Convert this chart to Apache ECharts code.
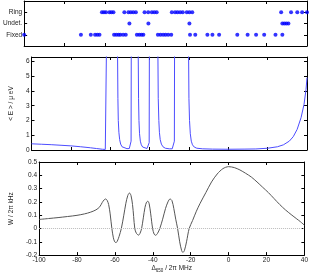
<!DOCTYPE html>
<html><head><meta charset="utf-8">
<script src="https://cdn.jsdelivr.net/npm/echarts@6/dist/echarts.min.js"></script>
<style>html,body{margin:0;padding:0;background:#fff}#c{width:311px;height:274px}</style>
</head><body><div id="c"></div>
<script>
// ---- data ----
const rowLabels = ['', 'Fixed', 'Undet.', 'Ring'];
const ringX = [-61.5,-60.5,-59.5,-57.8,-56.8,-55.8,-50.4,-48.4,-47.2,-46,-44.7,-40.4,-38.6,-36.8,-35.6,-34.4,-26.9,-25.3,-24.1,-22.8,-21.5,-19.5,-18.2,-16.8,27.2,32.1,35.2,37.6,40];
const undetX = [-47.9,-38.5,-18.2,27.8,28.8,29.8,30.8];
const fixedX = [-100,-71.9,-67,-64.9,-63.8,-62.7,-55.5,-54.4,-53.3,-52.4,-51,-49.7,-44.2,-43,-41.9,-41,-33.8,-32.5,-31.2,-30,-28.7,-27.2,-17.9,-15.3,-9.3,-6.8,-3.5,5.5,10.6,14.8,18.8,24.4,27.8];

const eX = [-100,-95,-90,-85,-80,-75,-70,-67,-64,-62.5,-62.1,-61.9,-61.5,
  -56.3,-56.1,-55.9,-55.6,-55.2,-54.7,-54,-53,-51.5,-50.3,-49.7,-49.4,-49.3,-49,
  -45.8,-45.6,-45.4,-45.1,-44.7,-44.2,-43.5,-42.5,-41.3,-40.5,-40.2,-40.1,-39.8,
  -35.8,-35.6,-35.3,-35,-34.6,-34,-33.2,-32,-30,-28.5,-27.7,-27.4,-27.3,-27,
  -20.2,-20,-19.7,-19.3,-18.8,-18.2,-17.3,-16,-13,-8,0,8,14,20,25,28,31,33,35,37,38.5,39.5,40];
const eY = [0.42,0.39,0.36,0.32,0.28,0.22,0.15,0.1,0.05,0.04,0.1,7,null,
  7,3.5,2,1.2,0.7,0.4,0.22,0.13,0.09,0.1,0.18,0.6,7,null,
  7,3.5,2,1.1,0.6,0.35,0.2,0.12,0.1,0.15,0.5,7,null,
  7,3.5,2,1.2,0.7,0.4,0.22,0.12,0.08,0.08,0.15,0.6,7,null,
  7,3.5,2,1.1,0.6,0.35,0.2,0.12,0.08,0.06,0.05,0.06,0.07,0.12,0.22,0.35,0.6,0.9,1.4,2.2,3.1,4.1,4.9];

const wX = [-100,-95,-90,-85,-80,-76,-73,-70,-68,-66.7,-65.7,-64.9,-64.1,-63.3,-62.5,-61.6,-60.8,-60.1,-59.4,-58.7,-57.8,-56.6,
  -55.3,-54.2,-53.2,-52.3,-51.5,-50.7,-50.1,-49.5,-48.7,-47.5,-46.7,-45.9,-45,-44.1,-43.3,-42.6,-41.9,-41.1,-40.1,
  -39.3,-38.5,-37.5,-36.3,-34.8,-33.3,-32,-30.9,-29.9,-28.9,-27.9,-26.9,-25.8,-24.8,-24.1,-23.3,-22.2,-20.8,
  -19,-17,-15,-12,-9,-6,-3,0,3,6,9,12,15,18,21,24,27,30,33,36,38,40];
const wY = [0.068,0.075,0.082,0.09,0.099,0.11,0.122,0.14,0.163,0.195,0.215,0.222,0.212,0.18,0.11,0,-0.07,-0.1,-0.106,-0.094,-0.06,0,
  0.1,0.19,0.248,0.267,0.248,0.18,0.09,0,-0.035,-0.05,-0.035,0,0.08,0.16,0.198,0.205,0.185,0.11,0,
  -0.042,-0.051,-0.037,0,0.07,0.15,0.2,0.222,0.21,0.15,0.07,0,-0.1,-0.165,-0.18,-0.165,-0.1,0,
  0.06,0.13,0.19,0.27,0.35,0.41,0.45,0.465,0.458,0.44,0.415,0.387,0.35,0.31,0.27,0.225,0.18,0.14,0.105,0.072,0.05,0.025];

const xTicks = {min: -100, max: 40, interval: 20};

// ---- chart ----
const FONT = '"Liberation Sans", Arial, sans-serif';
const TXT = '#222';
const grids = [
  {left: 24, right: 4, top: 1, height: 45},
  {left: 24, right: 4, top: 57, height: 93},
  {left: 24, right: 4, top: 162, height: 94}
];
function xa(gi, pos, labels, extra) {
  return Object.assign({
    type: 'value', gridIndex: gi, position: pos, min: xTicks.min, max: xTicks.max, interval: xTicks.interval,
    axisLine: {show: true, onZero: false, lineStyle: {color: '#000', width: 1}},
    axisTick: {show: true, inside: true, length: 3, lineStyle: {color: '#000'}},
    axisLabel: {show: labels, fontSize: 6.5, color: TXT, fontFamily: FONT, margin: 2},
    splitLine: {show: false}
  }, extra || {});
}
function ya(gi, pos, min, max, interval, labels, fmt, extra) {
  return Object.assign({
    type: 'value', gridIndex: gi, position: pos, min: min, max: max, interval: interval,
    axisLine: {show: true, onZero: false, lineStyle: {color: '#000', width: 1}},
    axisTick: {show: true, inside: true, length: 3, lineStyle: {color: '#000'}},
    axisLabel: {show: labels, fontSize: 6.5, color: TXT, fontFamily: FONT, margin: 2, formatter: fmt},
    splitLine: {show: false}
  }, extra || {});
}
const xAxis = [
  xa(0, 'bottom', false), xa(0, 'top', false),
  xa(1, 'bottom', false), xa(1, 'top', false),
  xa(2, 'bottom', true, {
    name: '{a|Δ}{s|650}{a| / 2π MHz}', nameLocation: 'middle', nameGap: 7,
    nameTextStyle: {fontFamily: FONT, color: TXT, rich: {
      a: {fontSize: 6.5, fontFamily: FONT, color: TXT},
      s: {fontSize: 4.5, fontFamily: FONT, color: TXT, padding: [4, 0, 0, 0]}
    }}
  }),
  xa(2, 'top', false)
];
const yAxis = [
  ya(0, 'left', 0, 4, 1, true, v => rowLabels[v] || ''),
  ya(0, 'right', 0, 4, 1, false),
  ya(1, 'left', 0, 6.3, 1, true, v => (Math.abs(v - Math.round(v)) < 1e-6 ? String(Math.round(v)) : ''),
    {name: '< E > / μ eV', nameLocation: 'middle', nameGap: 11, nameRotate: 90,
     nameTextStyle: {fontSize: 6.5, fontFamily: FONT, color: TXT}}),
  ya(1, 'right', 0, 6.3, 1, false),
  ya(2, 'left', -0.2, 0.5, 0.1, true, v => { const r = Math.round(v * 10) / 10; return r === 0 ? '0' : r.toFixed(1); },
    {name: 'W / 2π kHz', nameLocation: 'middle', nameGap: 16, nameRotate: 90,
     nameTextStyle: {fontSize: 6.5, fontFamily: FONT, color: TXT}}),
  ya(2, 'right', -0.2, 0.5, 0.1, false)
];
function dots(xs, row) { return xs.map(x => [x, row]); }
function pairs(xs, ys) { return xs.map((x, i) => [x, ys[i] === null ? null : ys[i]]); }
const dotStyle = {type: 'scatter', xAxisIndex: 0, yAxisIndex: 0, symbolSize: 4, itemStyle: {color: '#0000ff'}, silent: true};
const option = {
  animation: false,
  grid: grids,
  xAxis: xAxis,
  yAxis: yAxis,
  series: [
    Object.assign({name: 'Ring', data: dots(ringX, 3)}, dotStyle),
    Object.assign({name: 'Undet.', data: dots(undetX, 2)}, dotStyle),
    Object.assign({name: 'Fixed', data: dots(fixedX, 1)}, dotStyle),
    {type: 'line', xAxisIndex: 2, yAxisIndex: 2, data: pairs(eX, eY), showSymbol: false, connectNulls: false,
     clip: true, lineStyle: {color: '#4d4dff', width: 1}},
    {type: 'line', xAxisIndex: 4, yAxisIndex: 4, data: pairs(wX, wY), showSymbol: false, smooth: 0.3,
     clip: true, lineStyle: {color: '#555', width: 1},
     markLine: {silent: true, symbol: 'none', label: {show: false},
       lineStyle: {color: '#bbb', type: 'dotted', width: 1}, data: [{yAxis: 0}]}}
  ]
};
const chart = echarts.init(document.getElementById('c'), null, {renderer: 'canvas'});
chart.setOption(option);
</script></body></html>
